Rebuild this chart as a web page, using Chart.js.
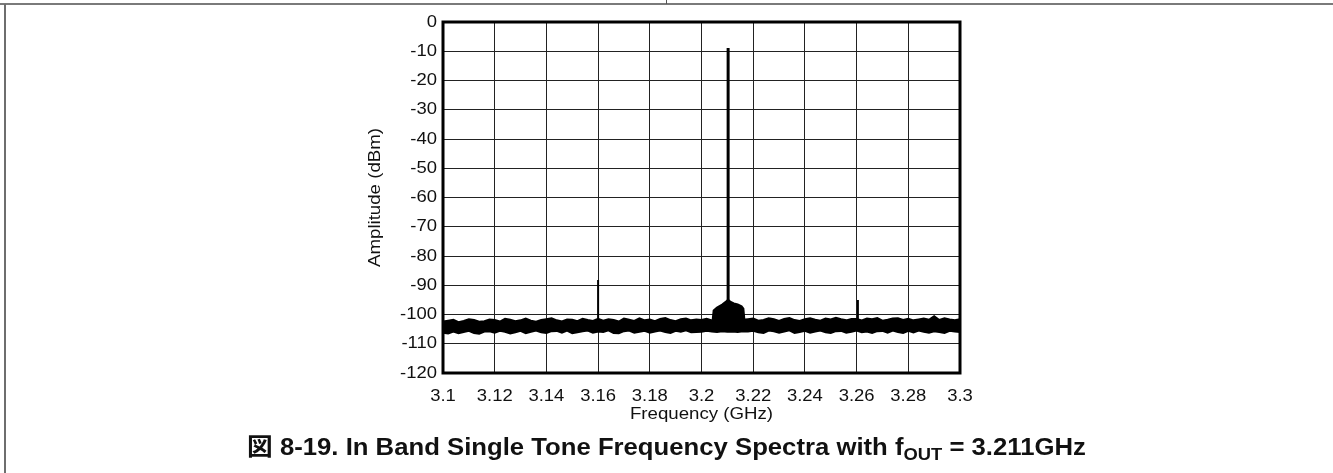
<!DOCTYPE html>
<html>
<head>
<meta charset="utf-8">
<script src="https://cdn.jsdelivr.net/npm/chart.js@4/dist/chart.umd.min.js"></script>
<style>
  body { margin: 0; background: #fff; }
  #wrap { position: relative; width: 1333px; height: 473px; overflow: hidden; }
  #chart { position: absolute; left: 0; top: 0; }
  .rule-top { position: absolute; left: 0; top: 3px; width: 1333px; height: 2px; background: #7a7a7a; }
  .rule-left { position: absolute; left: 4px; top: 4px; width: 2px; height: 469px; background: #6e6e6e; }
  .rule-div { position: absolute; left: 666px; top: 0; width: 1px; height: 4px; background: #555; }
  .caption { position: absolute; left: 0; width: 1333px; top: 427px; text-align: center;
    transform: scaleX(1.08); transform-origin: 667px 0;
    font: bold 23.8px "Liberation Sans", Arial, "Noto Sans CJK JP", sans-serif; color: #111; }
  .caption sub { font-size: 17px; vertical-align: -5px; line-height: 0; }
</style>
</head>
<body>
<div id="wrap">
  <canvas id="chart" width="1333" height="473"></canvas>
  <div class="rule-top"></div>
  <div class="rule-left"></div>
  <div class="rule-div"></div>
  <div class="caption">図 8-19. In Band Single Tone Frequency Spectra with f<sub>OUT</sub> = 3.211GHz</div>
</div>
<script>
// frequency grid of the noise envelopes: 3.100 .. 3.300 GHz, 0.002 GHz apart
const freqStart = 3.1;
const freqStep = 0.002;

// upper edge of the noise floor (dBm)
const floorTop = [
  -102.4,-102.1,-101.8,-102.6,-102.2,-101.6,-101.9,-102.5,-102.3,-101.7,
  -101.9,-102.4,-101.5,-101.8,-102.3,-102.0,-101.4,-102.1,-102.5,-101.9,
  -101.6,-101.3,-102.0,-102.4,-101.7,-101.8,-102.3,-101.5,-101.9,-102.2,
  -101.5,-102.1,-101.6,-101.9,-102.4,-101.4,-101.8,-102.2,-101.3,-102.0,
  -101.7,-102.3,-101.5,-101.2,-101.9,-102.3,-101.6,-101.4,-102.0,-101.7,
  -101.9,-101.5,-102.0,-101.8,-101.9,-101.6,-102.0,-101.7,-101.8,-101.6,
  -101.4,-102.1,-101.9,-101.3,-101.6,-102.2,-101.5,-101.2,-101.9,-102.2,
  -101.6,-101.3,-101.8,-102.1,-101.4,-101.7,-101.1,-101.6,-102.0,-101.5,
  -101.5,-102.0,-101.4,-101.6,-101.2,-102.1,-101.8,-101.4,-101.3,-101.9,
  -101.5,-102.0,-101.7,-101.4,-101.8,-100.6,-101.9,-101.3,-101.7,-102.0,-101.6
];

// lower edge of the noise floor (dBm)
const floorBottom = [
  -106.2,-106.5,-105.8,-106.4,-106.0,-105.6,-106.3,-106.6,-105.8,-105.7,
  -106.2,-105.6,-105.9,-106.5,-106.1,-105.6,-106.4,-105.9,-105.5,-106.1,
  -106.3,-105.7,-105.6,-106.2,-105.5,-106.4,-106.1,-105.7,-105.5,-106.2,
  -105.8,-106.0,-105.4,-106.3,-106.4,-105.7,-105.5,-106.2,-105.9,-105.6,
  -106.2,-105.8,-105.5,-106.0,-106.3,-105.6,-105.9,-105.4,-106.1,-106.0,
  -105.9,-105.6,-105.8,-106.0,-105.7,-105.9,-105.8,-106.0,-105.7,-105.8,
  -105.6,-106.1,-106.3,-105.5,-105.7,-106.2,-105.8,-105.4,-106.3,-106.0,
  -105.6,-106.2,-105.8,-105.5,-106.1,-106.3,-105.7,-105.6,-106.2,-105.9,
  -105.5,-106.1,-105.8,-106.3,-105.7,-105.6,-106.2,-105.5,-106.0,-106.3,
  -105.6,-106.1,-105.5,-105.9,-106.2,-105.7,-106.0,-106.3,-105.6,-105.8,-106.0
];

// skirt of the tone
const skirtFreq = [3.2043, 3.2047, 3.206, 3.208, 3.2095, 3.2103, 3.2111, 3.2125, 3.214, 3.2155, 3.2162, 3.2166];
const skirtTop = [-102.0, -98.6, -97.6, -96.6, -95.6, -95.0, -95.6, -96.2, -96.6, -97.2, -98.0, -102.0];
const skirtBottom = [-105.6, -105.6, -105.4, -105.0, -103.2, -101.0, -102.8, -104.6, -105.4, -105.6, -105.6, -105.6];

// tone and spurs
const toneFreq = 3.2103;
const toneLevel = -8.9;
const spurFreq = [3.16, 3.2605];
const spurLevel = [-88.2, -95.0];
const floorLevel = -104;

const xTicks = [3.1, 3.12, 3.14, 3.16, 3.18, 3.2, 3.22, 3.24, 3.26, 3.28, 3.3];
const yTicks = [0, -10, -20, -30, -40, -50, -60, -70, -80, -90, -100, -110, -120];

const topPts = floorTop.map((v, i) => ({ x: freqStart + i * freqStep, y: v }));
const botPts = floorBottom.map((v, i) => ({ x: freqStart + i * freqStep, y: v }));
const skirtTopPts = skirtFreq.map((f, i) => ({ x: f, y: skirtTop[i] }));
const skirtBotPts = skirtFreq.map((f, i) => ({ x: f, y: skirtBottom[i] }));
const spurPts = [];
spurFreq.forEach((f, i) => {
  spurPts.push({ x: f, y: floorLevel }, { x: f, y: spurLevel[i] }, { x: f, y: null });
});
const tonePts = [{ x: toneFreq, y: floorLevel }, { x: toneFreq, y: toneLevel }];

const tickFont = { family: '"Liberation Sans", Arial, sans-serif', size: 17.1 };
const titleFont = { family: '"Liberation Sans", Arial, sans-serif', size: 17.3 };

// the source type is a little wide: stretch every label along its own direction
const wideText = {
  id: "wideText",
  beforeInit(chart) {
    const ctx = chart.ctx;
    const fill = ctx.fillText.bind(ctx);
    ctx.fillText = (t, x, y) => {
      ctx.save();
      ctx.translate(x, y);
      ctx.scale(1.08, 1);
      fill(t, 0, 0);
      ctx.restore();
    };
  }
};

// thick frame around the plot area
const frame = {
  id: "frame",
  afterDatasetsDraw(chart) {
    const { ctx, chartArea: a } = chart;
    ctx.save();
    ctx.strokeStyle = "#000";
    ctx.lineWidth = 3;
    ctx.strokeRect(a.left, a.top, a.right - a.left, a.bottom - a.top);
    ctx.restore();
  }
};

const band = { showLine: true, borderColor: "#000", backgroundColor: "#000",
  borderWidth: 2, pointRadius: 0, tension: 0 };

new Chart(document.getElementById("chart"), {
  type: "scatter",
  data: {
    datasets: [
      { ...band, data: topPts, fill: "+1" },
      { ...band, data: botPts, fill: false },
      { ...band, data: skirtTopPts, fill: "+1" },
      { ...band, data: skirtBotPts, fill: false },
      { data: spurPts, showLine: true, borderColor: "#000", borderWidth: 2,
        pointRadius: 0, spanGaps: false, fill: false },
      { data: tonePts, showLine: true, borderColor: "#000", borderWidth: 3,
        pointRadius: 0, fill: false }
    ]
  },
  options: {
    responsive: false,
    animation: false,
    layout: { padding: { left: 361, right: 373, top: 22, bottom: 44 } },
    plugins: { legend: { display: false }, tooltip: { enabled: false } },
    scales: {
      x: {
        type: "linear", min: 3.1, max: 3.3,
        afterBuildTicks: s => { s.ticks = xTicks.map(v => ({ value: v })); },
        afterFit: s => { s.height = 56; },
        grid: { color: "#222", lineWidth: 1, drawTicks: false },
        border: { display: false },
        ticks: { color: "#111", font: tickFont, padding: 13, maxRotation: 0, autoSkip: false,
          callback: v => String(Number(v.toFixed(2))) },
        title: { display: true, text: "Frequency (GHz)", color: "#111", font: titleFont,
          padding: { top: 0, bottom: 4 } }
      },
      y: {
        type: "linear", min: -120, max: 0,
        afterBuildTicks: s => { s.ticks = yTicks.map(v => ({ value: v })); },
        afterFit: s => { s.width = 82; },
        grid: { color: "#222", lineWidth: 1, drawTicks: false },
        border: { display: false },
        ticks: { color: "#111", font: tickFont, padding: 6 },
        title: { display: true, text: "Amplitude (dBm)", color: "#111", font: titleFont,
          padding: { top: 4, bottom: 0 } }
      }
    }
  },
  plugins: [wideText, frame]
});
</script>
</body>
</html>
